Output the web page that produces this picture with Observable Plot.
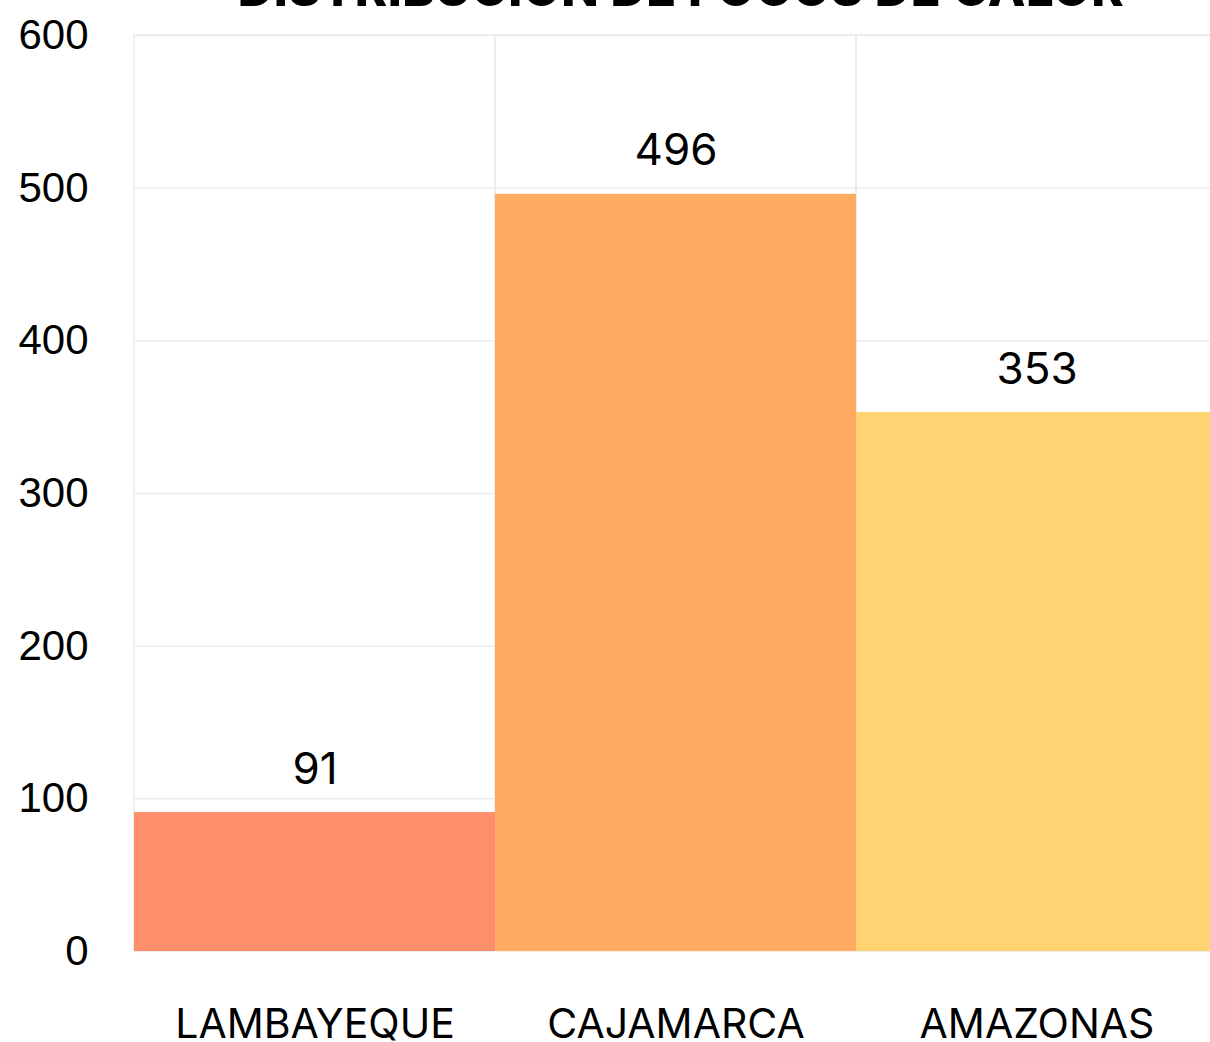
<!DOCTYPE html>
<html>
<head>
<meta charset="utf-8">
<script src="https://cdn.jsdelivr.net/npm/d3@7"></script>
<script src="https://cdn.jsdelivr.net/npm/@observablehq/plot@0.6"></script>
<style>
  html, body { margin: 0; padding: 0; background: #fff; overflow: hidden; }
  #wrap { position: relative; width: 1210px; height: 1042px; overflow: hidden; }
  #title { position: absolute; left: 0; width: 1210px; padding-left: 152px; box-sizing: border-box;
    top: -36px; text-align: center; font-family: Inter, sans-serif; font-weight: 800; font-size: 49px;
    line-height: 1; color: #000; white-space: nowrap; letter-spacing: 0.5px; }
  #chart { position: absolute; left: 0; top: 0; width: 1217px; }
  #chart svg { max-width: none !important; }
</style>
</head>
<body>
<div id="wrap">
  <div id="title">DISTRIBUCIÓN DE FOCOS DE CALOR</div>
  <div id="chart"></div>
</div>
<script>
const categories = ["LAMBAYEQUE", "CAJAMARCA", "AMAZONAS"];
const values = [91, 496, 353];
const colors = ["#FF8F6B", "#FFAB62", "#FFD272"];
const yTicks = [0, 100, 200, 300, 400, 500, 600];

const data = categories.map((c, i) => ({category: c, value: values[i], color: colors[i]}));

const chart = Plot.plot({
  width: 1217,
  height: 1042,
  marginTop: 35,
  marginBottom: 91,
  marginLeft: 134,
  marginRight: 0,
  style: {background: "transparent", overflow: "visible", maxWidth: "none"},
  x: {domain: categories, padding: 0, label: null},
  y: {domain: [0, 600], label: null},
  marks: [
    Plot.ruleY(yTicks, {stroke: "#ececec", strokeWidth: 1.5}),
    Plot.barY(categories, {x: d => d, y1: 0, y2: 600, fill: "none", stroke: "#ececec", strokeWidth: 1.5}),
    Plot.barY(data, {x: "category", y: "value", fill: "color"}),
    Plot.text(data, {x: "category", y: "value", text: d => String(d.value), dy: -43,
      fontSize: 44, fontFamily: "Inter, sans-serif", fill: "#000"}),
    Plot.axisY({ticks: yTicks, tickSize: 0, tickPadding: 46, fontSize: 42,
      fontFamily: "Liberation Sans, Arial, sans-serif", tickFormat: d => String(d), label: null}),
    Plot.axisX({tickSize: 0, tickPadding: 57, fontSize: 41, fontFamily: "Inter, sans-serif", label: null})
  ]
});
chart.style.color = "#000";
chart.style.maxWidth = "none";
document.getElementById("chart").append(chart);
</script>
</body>
</html>
